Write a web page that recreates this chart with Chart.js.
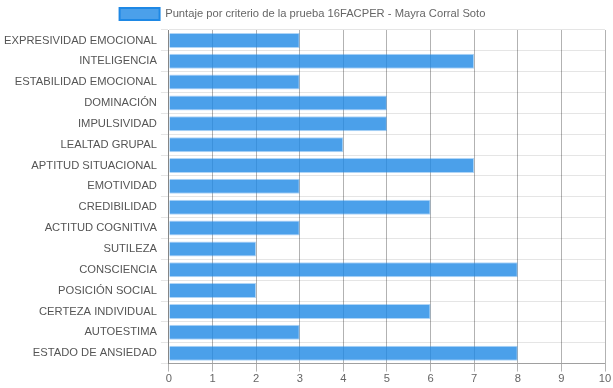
<!DOCTYPE html>
<html>
<head>
<meta charset="utf-8">
<script src="https://cdn.jsdelivr.net/npm/chart.js@4.4.0/dist/chart.umd.min.js"></script>
<style>
  html, body { margin: 0; padding: 0; background: #fff; }
  #wrap { width: 613px; height: 388px; }
</style>
</head>
<body>
<div id="wrap"><canvas id="chart"></canvas></div>
<script>
const criterios = [
    'EXPRESIVIDAD EMOCIONAL', 'INTELIGENCIA', 'ESTABILIDAD EMOCIONAL', 'DOMINACIÓN',
    'IMPULSIVIDAD', 'LEALTAD GRUPAL', 'APTITUD SITUACIONAL', 'EMOTIVIDAD',
    'CREDIBILIDAD', 'ACTITUD COGNITIVA', 'SUTILEZA', 'CONSCIENCIA',
    'POSICIÓN SOCIAL', 'CERTEZA INDIVIDUAL', 'AUTOESTIMA', 'ESTADO DE ANSIEDAD'
];
const puntajes = [3, 7, 3, 5, 5, 4, 7, 3, 6, 3, 2, 8, 2, 6, 3, 8];
const escalaMin = 0;
const escalaMax = 10;

Chart.defaults.font.family = "'Liberation Sans', Arial, sans-serif";
Chart.defaults.font.size = 11.2;
Chart.defaults.color = '#666';

const ctx = document.getElementById('chart').getContext('2d');
const grafica = new Chart(ctx, {
    type: 'bar',
    data: {
        labels: criterios,
        datasets: [{
            label: 'Puntaje por criterio de la prueba 16FACPER - Mayra Corral Soto',
            data: puntajes,
            backgroundColor: 'rgba(30, 136, 229, 0.8)',
            borderColor: 'rgba(30, 136, 229, 0.35)',
            borderWidth: 1,
        }]
    },
    options: {
        indexAxis: 'y',
        responsive: true,
        maintainAspectRatio: false,
        animation: false,
        layout: { padding: { left: 0, right: 8, top: 0, bottom: 1 } },
        scales: {
            x: {
                min: escalaMin,
                max: escalaMax,
                ticks: { stepSize: 1, color: '#666', padding: 1 },
                grid: { color: 'rgba(0,0,0,0.3)', tickLength: 8 },
                border: { color: 'rgba(0,0,0,0.3)' }
            },
            y: {
                ticks: { color: '#555', padding: 4 },
                grid: { color: 'rgba(0,0,0,0.1)', tickLength: 8 },
                border: { color: 'rgba(0,0,0,0.25)' }
            }
        },
        plugins: {
            legend: {
                labels: {
                    boxWidth: 40,
                    boxHeight: 12,
                    color: '#666',
                    padding: 8,
                    generateLabels: (chart) => {
                        const items = Chart.defaults.plugins.legend.labels.generateLabels(chart);
                        items.forEach(it => {
                            it.strokeStyle = 'rgb(30, 136, 229)';
                            it.lineWidth = 2;
                        });
                        return items;
                    }
                }
            },
            tooltip: { enabled: false }
        }
    }
});
</script>
</body>
</html>
